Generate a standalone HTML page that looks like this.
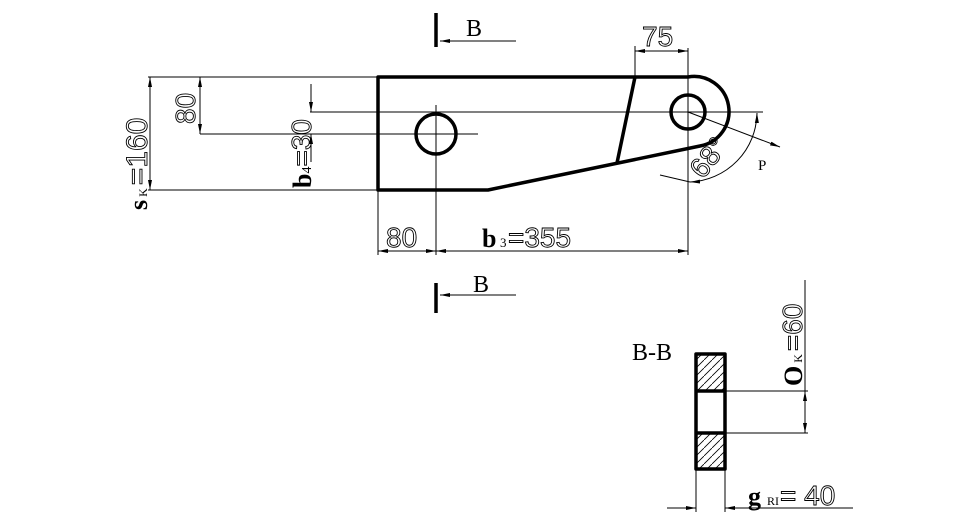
<!DOCTYPE html>
<html><head><style>body{margin:0;background:#fff}svg{display:block}text{font-family:"Liberation Serif",serif;fill:#000}.n{font-family:"Liberation Sans",sans-serif;fill:none;stroke:#000;stroke-width:0.9}</style></head><body>
<svg width="976" height="520" viewBox="0 0 976 520" xmlns="http://www.w3.org/2000/svg">
<defs><marker id="a" markerWidth="10" markerHeight="6" refX="10" refY="3" orient="auto-start-reverse" markerUnits="userSpaceOnUse"><path d="M0,1 L10,3 L0,5z" fill="#000"/></marker>
<pattern id="h" width="8" height="8" patternUnits="userSpaceOnUse"><path d="M0,8 L8,0" stroke="#000" stroke-width="0.8"/></pattern></defs>
<g stroke="#000" fill="none" stroke-width="1">
<line x1="310" y1="112" x2="763" y2="112"/>
<line x1="200" y1="134" x2="478" y2="134"/>
<line x1="436" y1="105" x2="436" y2="255"/>
<line x1="688" y1="48" x2="688" y2="255"/>
<line x1="148" y1="77" x2="378" y2="77"/><line x1="148" y1="190" x2="378" y2="190"/>
<line x1="150" y1="77" x2="150" y2="190" marker-start="url(#a)" marker-end="url(#a)"/>
<line x1="200" y1="77" x2="200" y2="134" marker-start="url(#a)" marker-end="url(#a)"/>
<line x1="311" y1="84" x2="311" y2="112" marker-end="url(#a)"/>
<line x1="311" y1="162" x2="311" y2="134" marker-end="url(#a)"/>
<line x1="378" y1="190" x2="378" y2="255"/>
<line x1="378" y1="251" x2="436" y2="251" marker-start="url(#a)" marker-end="url(#a)"/>
<line x1="436" y1="251" x2="688" y2="251" marker-start="url(#a)" marker-end="url(#a)"/>
<line x1="635" y1="46" x2="635" y2="77"/>
<line x1="635" y1="51" x2="688" y2="51" marker-start="url(#a)" marker-end="url(#a)"/>
<line x1="516" y1="41" x2="440" y2="41" marker-end="url(#a)"/>
<line x1="516" y1="295" x2="440" y2="295" marker-end="url(#a)"/>
<line x1="688" y1="112" x2="780" y2="147" marker-end="url(#a)"/>
<path d="M660,175 L690,182"/>
<path d="M690,182 A70,70 0 0 0 757,113" marker-start="url(#a)" marker-end="url(#a)"/>
<line x1="725" y1="391" x2="808" y2="391"/><line x1="725" y1="433" x2="808" y2="433"/>
<line x1="805" y1="280" x2="805" y2="391"/>
<line x1="805" y1="391" x2="805" y2="433" marker-start="url(#a)" marker-end="url(#a)"/>
<line x1="696" y1="470" x2="696" y2="512"/><line x1="725" y1="470" x2="725" y2="512"/>
<line x1="667" y1="508" x2="696" y2="508" marker-end="url(#a)"/>
<line x1="853" y1="508" x2="725" y2="508" marker-end="url(#a)"/>
</g>
<g stroke="#000" fill="none" stroke-width="3.5" stroke-linejoin="round">
<path d="M378,77 L688,77 A35,35 0 0 1 700,146 L488,190 L378,190 Z"/>
<line x1="635" y1="77" x2="617" y2="163"/>
<circle cx="436" cy="134" r="20"/>
<circle cx="688" cy="112" r="17"/>
<line x1="436" y1="13" x2="436" y2="47"/>
<line x1="436" y1="283" x2="436" y2="313"/>
<rect x="697" y="355" width="27" height="36" fill="url(#h)" stroke="none"/>
<rect x="697" y="433" width="27" height="35" fill="url(#h)" stroke="none"/>
<rect x="696" y="354" width="29" height="115"/>
<line x1="696" y1="391" x2="725" y2="391"/><line x1="696" y1="433" x2="725" y2="433"/>
</g>
<g font-size="24">
<text x="466" y="36">B</text><text x="473" y="292">B</text>
<text x="642" y="46" class="n" font-size="28">75</text>
<text x="386" y="247" class="n" font-size="28">80</text>
<text x="482" y="247" font-weight="bold" font-size="26">b</text><text x="500" y="247" font-size="13">3</text><text x="508" y="247" class="n" font-size="28">=355</text>
<text x="758" y="170" font-size="15">P</text>
<text x="632" y="360">B-B</text>
<text x="748" y="505" font-weight="bold" font-size="26">g</text><text x="767" y="505" font-size="12">RI</text><text x="780" y="505" class="n" font-size="28">= 40</text>
<text transform="translate(195,124) rotate(-90)" class="n" font-size="28">80</text>
<text transform="translate(147,210) rotate(-90)"><tspan font-weight="bold" font-size="26">s</tspan><tspan font-size="12"> K </tspan><tspan class="n" font-size="30">=160</tspan></text>
<text transform="translate(311,188) rotate(-90)"><tspan font-weight="bold" font-size="26">b</tspan><tspan font-size="14">4</tspan><tspan class="n" font-size="28">=30</tspan></text>
<text transform="translate(802,386) rotate(-90)"><tspan font-weight="bold" font-size="26">O</tspan><tspan font-size="12"> K </tspan><tspan class="n" font-size="28">=60</tspan></text>
<text transform="translate(703,180) rotate(-52)" class="n" font-size="28">68°</text>
</g>
</svg>
</body></html>
